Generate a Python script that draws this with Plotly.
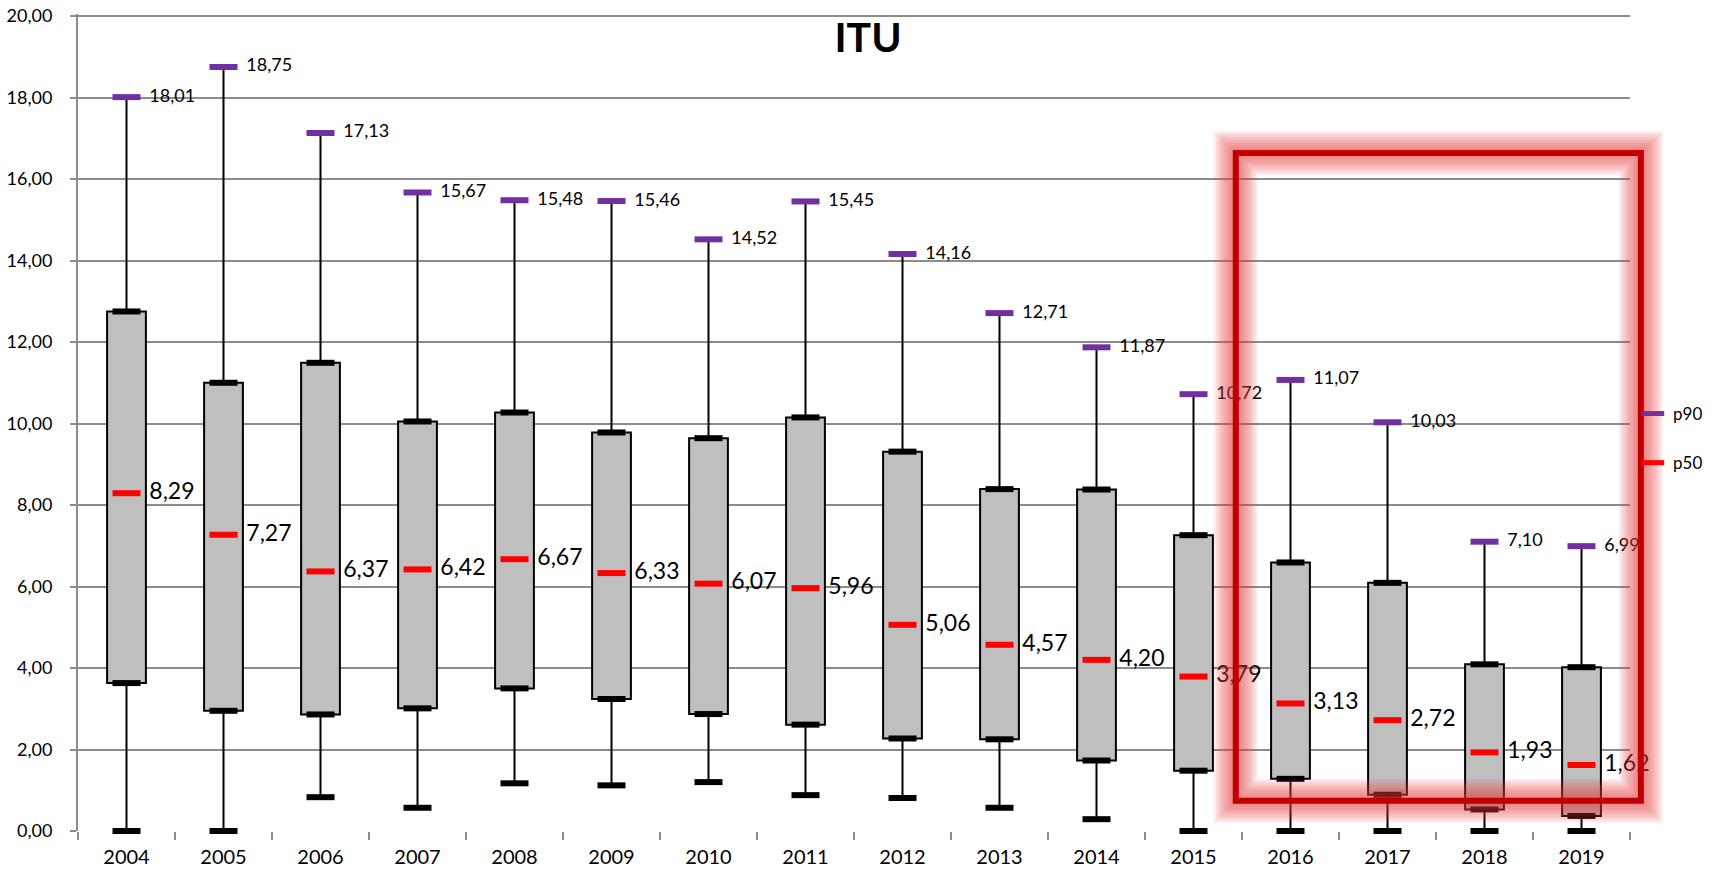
import plotly.graph_objects as go

# percentiles per year
years = ["2004", "2005", "2006", "2007", "2008", "2009", "2010", "2011",
         "2012", "2013", "2014", "2015", "2016", "2017", "2018", "2019"]
p10 = [0.00, 0.00, 0.83, 0.57, 1.17, 1.12, 1.20, 0.88, 0.81, 0.57, 0.29, 0.00, 0.00, 0.00, 0.00, 0.00]
p25 = [3.63, 2.95, 2.86, 3.01, 3.50, 3.24, 2.87, 2.61, 2.27, 2.25, 1.73, 1.48, 1.28, 0.89, 0.53, 0.37]
p50 = [8.29, 7.27, 6.37, 6.42, 6.67, 6.33, 6.07, 5.96, 5.06, 4.57, 4.20, 3.79, 3.13, 2.72, 1.93, 1.62]
p75 = [12.75, 11.00, 11.49, 10.05, 10.27, 9.78, 9.64, 10.15, 9.31, 8.39, 8.38, 7.26, 6.59, 6.09, 4.09, 4.02]
p90 = [18.01, 18.75, 17.13, 15.67, 15.48, 15.46, 14.52, 15.45, 14.16, 12.71, 11.87, 10.72, 11.07, 10.03, 7.10, 6.99]

# styling
font_family = "Lato, Open Sans, sans-serif"
grid_color = "#8c8c8c"
box_fill = "#bfbfbf"
purple = "#7030a0"
red = "#ff0000"
dark_red = "#c00000"


def fmt(v):
    return f"{v:.2f}".replace(".", ",")


xpos = list(range(len(years)))
label_off = 0.235

fig = go.Figure()

# boxes p25..p75
fig.add_bar(
    x=xpos, base=p25, y=[hi - lo for hi, lo in zip(p75, p25)],
    width=0.4, marker=dict(color=box_fill, line=dict(color="black", width=2)),
    showlegend=False, hoverinfo="skip",
)

# upper whiskers p75 -> p90
fig.add_scatter(
    x=xpos, y=p75, mode="markers", marker=dict(size=1, color="rgba(0,0,0,0)"),
    error_y=dict(type="data", symmetric=False, array=[a - b for a, b in zip(p90, p75)],
                 arrayminus=[0] * len(xpos), color="black", thickness=2, width=0),
    showlegend=False, hoverinfo="skip",
)
# lower whiskers p10 -> p25
fig.add_scatter(
    x=xpos, y=p25, mode="markers", marker=dict(size=1, color="rgba(0,0,0,0)"),
    error_y=dict(type="data", symmetric=False, array=[0] * len(xpos),
                 arrayminus=[a - b for a, b in zip(p25, p10)], color="black", thickness=2, width=0),
    showlegend=False, hoverinfo="skip",
)

# black caps at p10, p25, p75
fig.add_scatter(
    x=xpos * 3, y=p10 + p25 + p75, mode="markers", cliponaxis=False,
    marker=dict(symbol="line-ew", size=20, line=dict(color="black", width=6)),
    showlegend=False, hoverinfo="skip",
)

# p90 marks
fig.add_scatter(
    x=xpos, y=p90, mode="markers", name="p90", cliponaxis=False,
    marker=dict(symbol="line-ew", size=20, line=dict(color=purple, width=6)),
    legendgroup="p90", legendrank=1,
)
# p50 marks
fig.add_scatter(
    x=xpos, y=p50, mode="markers", name="p50", cliponaxis=False,
    marker=dict(symbol="line-ew", size=20, line=dict(color=red, width=6)),
    legendgroup="p50", legendrank=2,
)

# value labels
fig.add_scatter(
    x=[x + label_off for x in xpos], y=p90, mode="text", text=[fmt(v) for v in p90],
    textposition="middle right", textfont=dict(size=18, color="black", family=font_family),
    showlegend=False, hoverinfo="skip", cliponaxis=False,
)
fig.add_scatter(
    x=[x + label_off for x in xpos], y=p50, mode="text", text=[fmt(v) for v in p50],
    textposition="middle right", textfont=dict(size=23, color="black", family=font_family),
    showlegend=False, hoverinfo="skip", cliponaxis=False,
)

# highlight frame around 2016-2019 with a soft glow
rect = dict(type="rect", xref="paper", yref="paper", x0=0.746, x1=1.007, y0=0.037, y1=0.830,
            layer="above", fillcolor="rgba(0,0,0,0)")
for w in range(44, 7, -4):
    fig.add_shape(**rect, line=dict(color="rgba(232,60,60,0.085)", width=w))
fig.add_shape(**rect, line=dict(color=dark_red, width=6))

fig.update_layout(
    width=1715, height=875,
    margin=dict(l=78, r=85, t=14, b=44, autoexpand=False),
    plot_bgcolor="white", paper_bgcolor="white",
    separators=",.",
    font=dict(family=font_family, size=18, color="black"),
    title=dict(text="<b>ITU</b>", x=868 / 1715, y=1 - 38 / 875, xanchor="center", yanchor="middle",
               font=dict(size=41, family=font_family, color="black")),
    legend=dict(xref="container", yref="container", x=1633 / 1715, y=1 - 396 / 875,
                xanchor="left", yanchor="top", tracegroupgap=24,
                font=dict(size=17), bgcolor="rgba(0,0,0,0)", itemwidth=30),
)
fig.update_xaxes(
    range=[-0.5, len(years) - 0.5], tickvals=xpos, ticktext=years,
    showgrid=False, zeroline=False, ticks="", ticklabelstandoff=12,
    showline=False, tickfont=dict(size=20), automargin=False,
    minor=dict(ticks="outside", tick0=-0.5, dtick=1, ticklen=8, tickwidth=2, tickcolor=grid_color, showgrid=False),
)
# a hair above 20 so the top gridline is not dropped at the axis end
fig.update_yaxes(
    range=[0, 20.05], dtick=2, tickformat=".2f", ticklabeloverflow="allow",
    showgrid=True, gridcolor=grid_color, gridwidth=2,
    zeroline=False, showline=True, linecolor=grid_color, linewidth=2,
    ticks="outside", ticklen=6, tickwidth=2, tickcolor=grid_color,
    tickfont=dict(size=18), ticklabelstandoff=14, automargin=False,
)

# drop the default 8px body margin so the figure sits at the page corner
fig.write_html("out.html", config={"displayModeBar": False},
               post_script="document.body.style.margin='0';")
